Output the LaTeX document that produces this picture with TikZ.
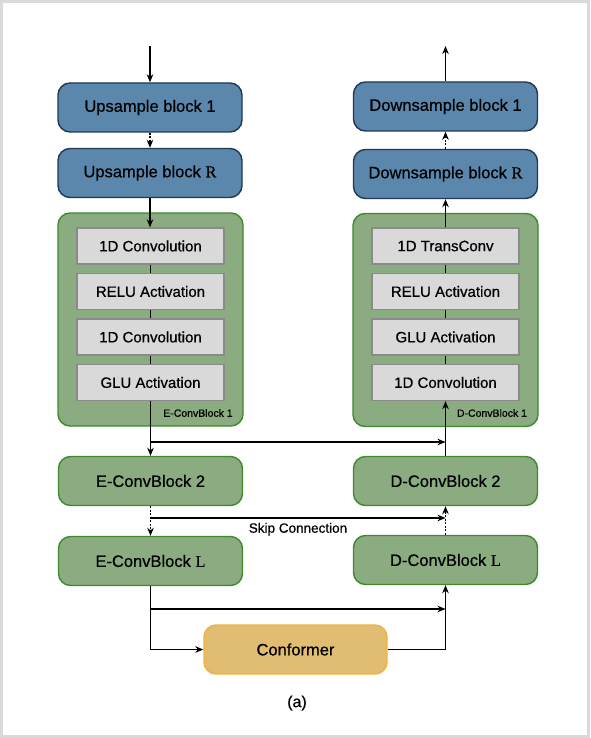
\documentclass[tikz,border=0pt]{standalone}
\usepackage{fontspec}
\setmainfont[FakeBold=0.6]{Liberation Sans}
\newfontfamily\serifR[FakeBold=0.4]{Liberation Serif}
\usetikzlibrary{arrows.meta}
\definecolor{bluef}{HTML}{5B87AC}
\definecolor{blued}{HTML}{1F3A52}
\definecolor{greenf}{HTML}{8BAB81}
\definecolor{greend}{HTML}{3E8A2C}
\definecolor{grayf}{HTML}{D9D9D9}
\definecolor{grayd}{HTML}{8A8A8A}
\definecolor{conff}{HTML}{E1BC73}
\definecolor{confd}{HTML}{F5B23A}
\definecolor{framec}{HTML}{DADADA}
\tikzset{
  blk/.style={draw=blued, fill=bluef, line width=1.4pt, rounded corners=12pt,
    minimum width=184pt, minimum height=49pt, font=\fontsize{16.5}{18}\selectfont, inner sep=0pt},
  gblk/.style={draw=greend, fill=greenf, line width=1.4pt, rounded corners=12pt,
    minimum width=184pt, minimum height=49pt, font=\fontsize{16.5}{18}\selectfont, inner sep=0pt},
  cont/.style={draw=greend, fill=greenf, line width=1.4pt, rounded corners=12pt,
    minimum width=185pt, minimum height=213pt, inner sep=0pt},
  layer/.style={draw=grayd, fill=grayf, line width=1.3pt,
    minimum width=147pt, minimum height=36pt, font=\fontsize{15}{17}\selectfont, inner sep=0pt},
  confb/.style={draw=confd, fill=conff, line width=1.4pt, rounded corners=12pt,
    minimum width=183pt, minimum height=49pt, font=\fontsize{16.5}{18}\selectfont, inner sep=0pt},
  tag/.style={font=\fontsize{10.5}{12}\selectfont, inner sep=0pt},
  arr/.style={draw=black, line width=1.2pt, -{Stealth[length=8pt,width=6.5pt,inset=2.5pt]}},
  ln/.style={draw=black, line width=1.2pt},
  dots/.style={dash pattern=on 2pt off 1.5pt},
}
\begin{document}
\begin{tikzpicture}[x=1pt,y=-1pt]
\useasboundingbox (0,0) rectangle (590,738);
\fill[white] (0,0) rectangle (590,738);
\draw[framec, line width=3pt] (1.5,1.5) rectangle (588.5,736.5);

% left column
\node[blk] (up1) at (150,107.5) {Upsample block 1};
\node[blk] (upR) at (150,173) {Upsample block {\serifR R}};
\node[cont] (ec1) at (150.5,319.5) {};
\node[layer] (e1a) at (150.5,246) {1D Convolution};
\node[layer] (e1b) at (150.5,291.5) {RELU Activation};
\node[layer] (e1c) at (150.5,337) {1D Convolution};
\node[layer] (e1d) at (150.5,382.5) {GLU Activation};
\node[tag] (e1t) at (198,413) {E-ConvBlock 1};
\node[gblk] (ec2) at (150.5,481) {E-ConvBlock 2};
\node[gblk] (ecL) at (150.5,561) {E-ConvBlock {\serifR L}};

% right column
\node[blk] (dn1) at (445.5,106.5) {Downsample block 1};
\node[blk] (dnR) at (445.5,174) {Downsample block {\serifR R}};
\node[cont] (dc1) at (445.5,320) {};
\node[layer] (d1a) at (445.5,246) {1D TransConv};
\node[layer] (d1b) at (445.5,291.5) {RELU Activation};
\node[layer] (d1c) at (445.5,337) {GLU Activation};
\node[layer] (d1d) at (445.5,382.5) {1D Convolution};
\node[tag] (d1t) at (492,413) {D-ConvBlock 1};
\node[gblk] (dc2) at (445.5,481) {D-ConvBlock 2};
\node[gblk] (dcL) at (445.5,560) {D-ConvBlock {\serifR L}};

% conformer
\node[confb] (conf) at (295.5,649.5) {Conformer};
\node[font=\fontsize{16}{18}\selectfont] (cap) at (297,703) {(a)};

% connectors left
\coordinate (inTop) at (150,46);
\draw[arr] (inTop) -- (up1);
\draw[arr,dots] (up1) -- (upR);
\draw[arr] (upR.south) -- (upR.south |- e1a.north);
\draw[ln] (e1a) -- (e1b);
\draw[ln] (e1b) -- (e1c);
\draw[ln] (e1c) -- (e1d);
\draw[arr] (e1d.south -| ec2.north) -- (ec2.north);
\draw[arr,dots] (ec2) -- (ecL);

% connectors right
\coordinate (outTop) at (445.5,46);
\draw[arr] (dn1) -- (outTop);
\draw[arr,dots] (dnR) -- (dn1);
\draw[arr] (d1a.north) -- (d1a.north |- dnR.south);
\draw[ln] (d1a) -- (d1b);
\draw[ln] (d1b) -- (d1c);
\draw[ln] (d1c) -- (d1d);
\draw[arr] (dc2.north) -- (dc2.north |- d1d.south);
\draw[arr,dots] (dcL) -- (dc2);

% skip connections
\coordinate (j1) at (150.5,442);
\draw[arr] (j1) -- (j1 -| dc2.north);
\coordinate (j2) at (150.5,518);
\draw[arr] (j2) -- (j2 -| dc2.north)
  node[midway, below=1pt, font=\fontsize{13.5}{15}\selectfont] {Skip Connection};
\coordinate (j3) at (150.5,609);
\draw[arr] (j3) -- (j3 -| dcL.south);

% conformer path
\draw[arr] (ecL.south) |- (conf.west);
\draw[arr] (conf.east) -| (dcL.south);
\end{tikzpicture}
\end{document}
